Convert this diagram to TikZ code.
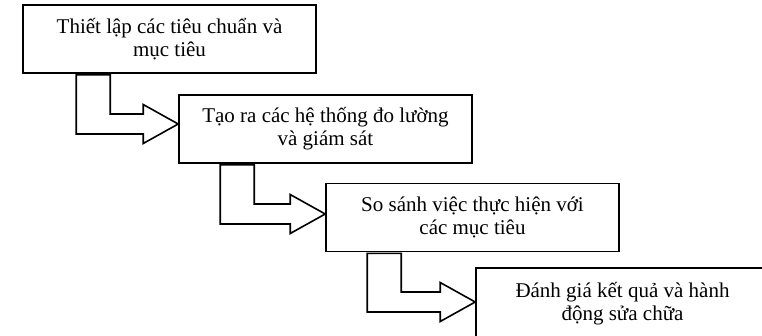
\documentclass[tikz,border=0pt]{standalone}
\usepackage{fontspec}
\setmainfont{Liberation Serif}
\usetikzlibrary{calc,positioning}
\tikzset
{
    stagebox/.style = {rectangle, draw=black, line width=1.6pt, fill=white, align=center, minimum width=293pt, minimum height=68pt, inner sep=0pt, font=\fontsize{21}{23}\selectfont},
    blockarrow/.style = {draw=black, line width=1.6pt, fill=white, line join=miter}
}
% bent block arrow from the bottom of #1 to the left side of #2
% #3 = offset of the shaft from the left of #1, #4 = vertical shift of the tip
\newcommand{\bentarrow}[4]{
    \coordinate (s) at ($(#1.south west)+(#3,1)$);
    \coordinate (si) at ($(s)+(34,0)$);
    \coordinate (t) at ($(#2.west)+(0,#4)$);
    \coordinate (tu) at ($(t)+(0,-10)$);
    \coordinate (td) at ($(t)+(0,10)$);
    \draw[blockarrow] (s) -- (si) -- (si |- tu) -- ($(t)+(-35,-10)$) -- ($(t)+(-35,-19.5)$) -- (t)
        -- ($(t)+(-35,19.5)$) -- ($(t)+(-35,10)$) -- (s |- td) -- cycle;
}

\begin{document}
\begin{tikzpicture}[x=1pt, y=-1pt]
\clip (0,0) rectangle (762,335);
\node[stagebox] (b1) at (169.5,39) {Thiết lập các tiêu chuẩn và\\mục tiêu};
\node[stagebox] (b2) at (325.5,129) {Tạo ra các hệ thống đo lường\\và giám sát};
\node[stagebox] (b3) at (472.5,217.5) {So sánh việc thực hiện với\\các mục tiêu};
\node[stagebox, minimum height=72pt] (b4) at (622.5,304) {Đánh giá kết quả và hành\\động sửa chữa};

\bentarrow{b1}{b2}{54}{-5}
\bentarrow{b2}{b3}{42}{-3.5}
\bentarrow{b3}{b4}{42}{-2}
\end{tikzpicture}
\end{document}
